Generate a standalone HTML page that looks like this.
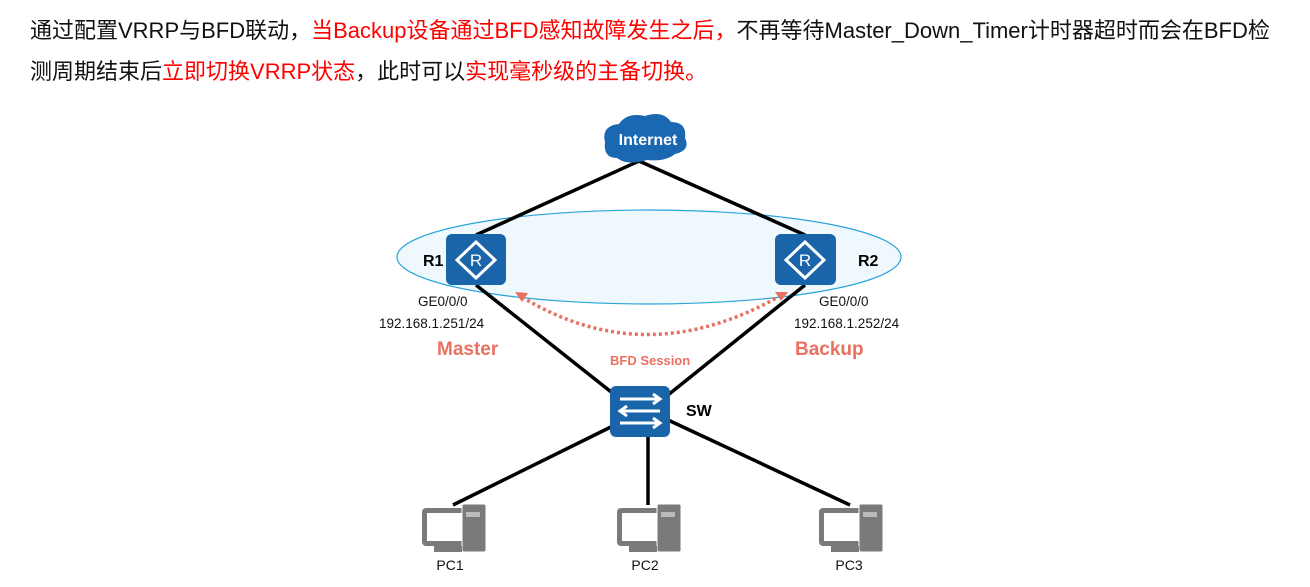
<!DOCTYPE html>
<html><head><meta charset="utf-8"><style>
body{margin:0;width:1310px;height:587px;background:#fff;position:relative;overflow:hidden;font-family:"Liberation Sans","Noto Sans CJK SC",sans-serif}
.t{position:absolute;left:30px;font-size:22px;color:#111;white-space:nowrap;letter-spacing:0px}
.r{color:#f00}
</style></head><body>
<div class="t" style="top:13px">通过配置VRRP与BFD联动，<span class="r">当Backup设备通过BFD感知故障发生之后，</span>不再等待Master_Down_Timer计时器超时而会在BFD检</div>
<div class="t" style="top:54px">测周期结束后<span class="r">立即切换VRRP状态</span>，此时可以<span class="r">实现毫秒级的主备切换。</span></div>
<svg width="1310" height="587" style="position:absolute;left:0;top:0" font-family="Liberation Sans, sans-serif">
<defs>
<g id="pc">
<rect x="0" y="4" width="46" height="38" rx="4" fill="#7a7a7a"/>
<rect x="5" y="9" width="36" height="28" fill="#fff"/>
<rect x="40" y="0" width="24" height="48" rx="2" fill="#7a7a7a" stroke="#fff" stroke-width="1"/>
<rect x="44" y="8" width="14" height="5" fill="#bbb"/>
<rect x="12" y="42" width="28" height="6" fill="#7a7a7a"/>
</g>
</defs>
<ellipse cx="649" cy="257" rx="252" ry="47" fill="#eef8fd" stroke="#2aa3dc" stroke-width="1.2"/>
<g stroke="#000" stroke-width="3.5">
<line x1="639" y1="161" x2="476" y2="235"/>
<line x1="639" y1="161" x2="805" y2="235"/>
<line x1="476" y1="285" x2="615" y2="395"/>
<line x1="805" y1="285" x2="668" y2="395"/>
<line x1="625" y1="420" x2="453" y2="505"/>
<line x1="648" y1="430" x2="648" y2="505"/>
<line x1="668" y1="420" x2="850" y2="505"/>
</g>
<path d="M605 142 q-4 -16 14 -18 q8 -12 26 -8 q18 -6 26 6 q16 0 14 16 q6 12 -10 16 q-10 8 -28 6 q-20 6 -30 -2 q-14 0 -12 -16z" fill="#1a67b2"/>
<text x="648" y="145" fill="#fff" font-size="16" font-weight="bold" text-anchor="middle">Internet</text>
<g fill="#1a64aa"><rect x="446" y="234" width="60" height="51" rx="6"/><rect x="775" y="234" width="61" height="51" rx="6"/><rect x="610" y="386" width="60" height="51" rx="6"/></g>
<g fill="none" stroke="#fff" stroke-width="3">
<polygon points="476,242 495,260 476,278 457,260"/>
<polygon points="805,242 824,260 805,278 786,260"/>
</g>
<text x="476" y="266" fill="#fff" font-size="17" text-anchor="middle">R</text>
<text x="805" y="266" fill="#fff" font-size="17" text-anchor="middle">R</text>
<g stroke="#fff" stroke-width="3" fill="none">
<path d="M620 399 h40 m-7 -5 l7 5 -7 5"/><path d="M660 411 h-40 m7 -5 l-7 5 7 5"/><path d="M620 423 h40 m-7 -5 l7 5 -7 5"/>
</g>
<text x="423" y="266" font-size="16" font-weight="bold">R1</text>
<text x="858" y="266" font-size="16" font-weight="bold">R2</text>
<text x="686" y="416" font-size="16" font-weight="bold">SW</text>
<g font-size="13.5" fill="#111">
<text x="418" y="306">GE0/0/0</text><text x="379" y="328">192.168.1.251/24</text>
<text x="819" y="306">GE0/0/0</text><text x="794" y="328">192.168.1.252/24</text>
</g>
<text x="437" y="355" font-size="19" font-weight="bold" fill="#ec7062">Master</text>
<text x="795" y="355" font-size="19" font-weight="bold" fill="#ec7062">Backup</text>
<text x="610" y="365" font-size="13" font-weight="bold" fill="#ec7062">BFD Session</text>
<path d="M522 297 Q645 372 778 297" fill="none" stroke="#e8705f" stroke-width="3.5" stroke-dasharray="3,3"/>
<polygon points="515,292 528,293 522,302" fill="#e8705f"/>
<polygon points="788,292 775,292 781,301" fill="#e8705f"/>
<use href="#pc" x="422" y="504"/><use href="#pc" x="617" y="504"/><use href="#pc" x="819" y="504"/>
<g font-size="14" fill="#111" text-anchor="middle"><text x="450" y="570">PC1</text><text x="645" y="570">PC2</text><text x="849" y="570">PC3</text></g>
</svg>
</body></html>
